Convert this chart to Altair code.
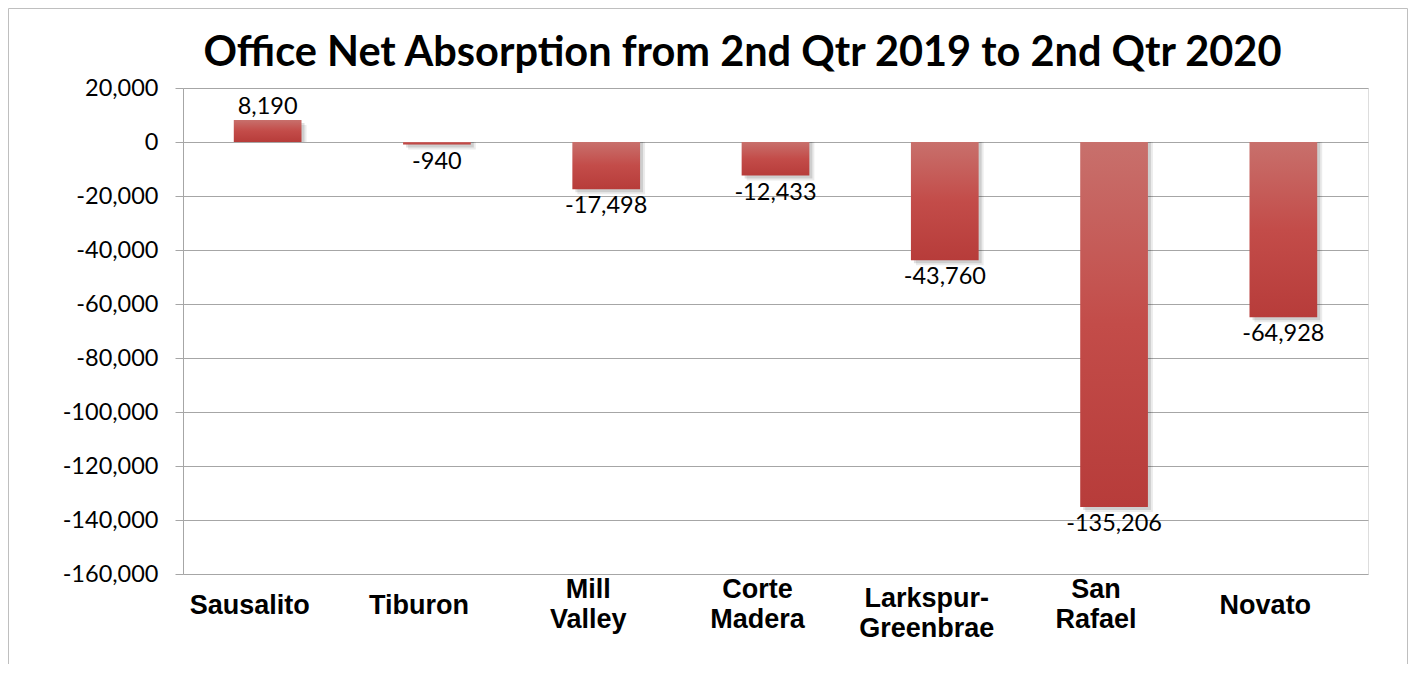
import altair as alt
import pandas as pd

categories = ["Sausalito", "Tiburon", "Mill Valley", "Corte Madera",
              "Larkspur-Greenbrae", "San Rafael", "Novato"]
values = [8190, -940, -17498, -12433, -43760, -135206, -64928]
y_ticks = list(range(-160000, 20001, 20000))

df = pd.DataFrame({"city": categories, "value": values})

W, H = 1185, 486
PAD = {"left": 175, "top": 80, "right": 40, "bottom": 90}

FMT = "replace(format(datum.value, ',.0f'), '\u2212', '-')"

x_enc = alt.X("city:N", sort=categories, title=None,
              scale=alt.Scale(paddingInner=0.6, paddingOuter=0.3),
              axis=alt.Axis(labelAngle=0, ticks=False, domain=False,
                            labelFont="Liberation Sans", labelFontWeight="bold",
                            labelFontSize=27, labelColor="#000000",
                            labelBaseline="middle", labelOffset=-18,
                            labelPadding={"condition": [
                                {"test": "indexof(datum.label, '-') >= 0", "value": 24},
                                {"test": "indexof(datum.label, ' ') >= 0", "value": 15}],
                                "value": 31},
                            labelLineHeight=30,
                            labelExpr="split(replace(datum.label, '-', '- '), ' ')"))
y_scale = alt.Scale(domain=[-160000, 20000], nice=False, zero=False)
y_enc = alt.Y("value:Q", scale=y_scale, title=None,
              axis=alt.Axis(values=y_ticks, labelExpr=FMT, grid=True,
                            gridColor="#a6a6a6", gridWidth=1,
                            domainColor="#a6a6a6", tickColor="#a6a6a6",
                            tickSize=8, labelPadding=17,
                            labelFont="Lato", labelFontSize=23.5,
                            labelColor="#000000"))

grad = alt.LinearGradient(
    gradient="linear", x1=0, y1=0, x2=0, y2=1,
    stops=[alt.GradientStop(offset=0, color="#c8706c"),
           alt.GradientStop(offset=0.5, color="#c34c49"),
           alt.GradientStop(offset=1, color="#b73c3a")])

base = alt.Chart(df)

shadow = base.mark_bar(color="#000000", opacity=0.12, xOffset=3, yOffset=3).encode(
    x=x_enc, y=y_enc, y2=alt.datum(0))
shadow2 = base.mark_bar(color="#000000", opacity=0.08, xOffset=5, yOffset=5).encode(
    x=x_enc, y=y_enc, y2=alt.datum(0))
bars = base.mark_bar(color=grad).encode(x=x_enc, y=y_enc, y2=alt.datum(0))

lab_base = base.transform_calculate(lab=FMT)
lab_pos = lab_base.transform_filter("datum.value >= 0").mark_text(
    font="Lato", fontSize=23.5, color="#000000", baseline="middle", dy=-13).encode(
    x=alt.X("city:N", sort=categories), y=alt.Y("value:Q", scale=y_scale),
    text="lab:N")
lab_neg = lab_base.transform_filter("datum.value < 0").mark_text(
    font="Lato", fontSize=23.5, color="#000000", baseline="middle", dy=17).encode(
    x=alt.X("city:N", sort=categories), y=alt.Y("value:Q", scale=y_scale),
    text="lab:N")

border = alt.Chart(pd.DataFrame({"a": [0]})).mark_rect(
    fill=None, stroke="#bfbfbf", strokeWidth=1).encode(
    x=alt.value(-174.5), x2=alt.value(W + PAD["right"] - 0.5),
    y=alt.value(-79.5), y2=alt.value(H + 200))

chart = alt.layer(border, shadow2, shadow, bars, lab_pos, lab_neg).properties(
    width=W, height=H,
    title=alt.Title("Office Net Absorption from 2nd Qtr 2019 to 2nd Qtr 2020",
                    font="Lato", fontSize=41.5, fontWeight="bold", color="#000000",
                    anchor="middle", dx=-33, baseline="alphabetic", offset=-99),
    autosize=alt.AutoSizeParams(type="none"),
    padding=PAD,
).configure_view(stroke=None).configure(background="white")

chart.save("out.html", embed_options={"renderer": "svg", "actions": False})
